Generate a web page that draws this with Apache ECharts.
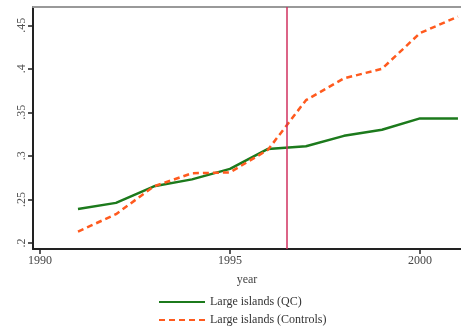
<!DOCTYPE html>
<html><head><meta charset="utf-8">
<script src="https://cdn.jsdelivr.net/npm/echarts@6/dist/echarts.min.js"></script>
<style>html,body{margin:0;padding:0;background:#fff}#c{width:461px;height:331px}</style>
</head><body><div id="c"></div>
<script>
const years = [1991,1992,1993,1994,1995,1996,1997,1998,1999,2000,2001];
const qc = [0.239,0.246,0.265,0.273,0.285,0.308,0.311,0.323,0.330,0.343,0.343];
const controls = [0.213,0.233,0.265,0.280,0.281,0.307,0.364,0.389,0.400,0.441,0.460];
const yTicks = [0.2,0.25,0.3,0.35,0.4,0.45];
const yTickLabels = ['.2','.25','.3','.35','.4','.45'];
const xTicks = [1990,1995,2000];
const treatYear = 1996.5;

const font = 'Liberation Serif, Times New Roman, serif';
const chart = echarts.init(document.getElementById('c'));
chart.setOption({
  animation:false,
  grid:{left:33,right:0,top:7,bottom:82,containLabel:false},
  xAxis:[{
    type:'value',min:1989.816,max:2001.08,name:'year',nameLocation:'middle',nameGap:25,
    nameTextStyle:{fontFamily:font,fontSize:12,color:'#444'},
    axisLine:{lineStyle:{color:'#222',width:2}},
    axisTick:{customValues:xTicks,length:5,lineStyle:{color:'#222',width:1.5}},
    axisLabel:{customValues:xTicks,fontFamily:font,fontSize:12,color:'#444',margin:6,formatter:v=>String(Math.round(v))},
    splitLine:{show:false}
  },{
    type:'value',position:'top',min:1989.816,max:2001.08,
    axisLine:{show:true,lineStyle:{color:'#999',width:2}},
    axisTick:{show:false},axisLabel:{show:false},splitLine:{show:false}
  }],
  yAxis:{
    type:'value',min:0.193,max:0.471,
    axisLine:{show:true,lineStyle:{color:'#222',width:2}},
    axisTick:{show:true,customValues:yTicks,length:5,lineStyle:{color:'#222',width:1.5}},
    axisLabel:{customValues:yTicks,rotate:90,fontFamily:font,fontSize:12,color:'#555',margin:5,
      formatter:v=>{const i=yTicks.findIndex(t=>Math.abs(t-v)<1e-6);return i>=0?yTickLabels[i]:'';}},
    splitLine:{show:false}
  },
  legend:{
    orient:'vertical',left:153,top:291,itemWidth:46,itemHeight:10,itemGap:6,
    itemStyle:{opacity:0},
    textStyle:{fontFamily:font,fontSize:12,color:'#333'},
    data:['Large islands (QC)','Large islands (Controls)']
  },
  series:[{
    name:'Large islands (QC)',type:'line',symbol:'none',
    data:years.map((y,i)=>[y,qc[i]]),
    lineStyle:{color:'#1c7a1c',width:2.5},itemStyle:{color:'#1c7a1c'},
    markLine:{silent:true,symbol:'none',label:{show:false},
      lineStyle:{color:'#d0305f',width:1.5,type:'solid'},data:[{xAxis:treatYear}]}
  },{
    name:'Large islands (Controls)',type:'line',symbol:'none',
    data:years.map((y,i)=>[y,controls[i]]),
    lineStyle:{color:'#ff5a1e',width:2.5,type:[6,4]},itemStyle:{color:'#ff5a1e'}
  }]
});
</script></body></html>
